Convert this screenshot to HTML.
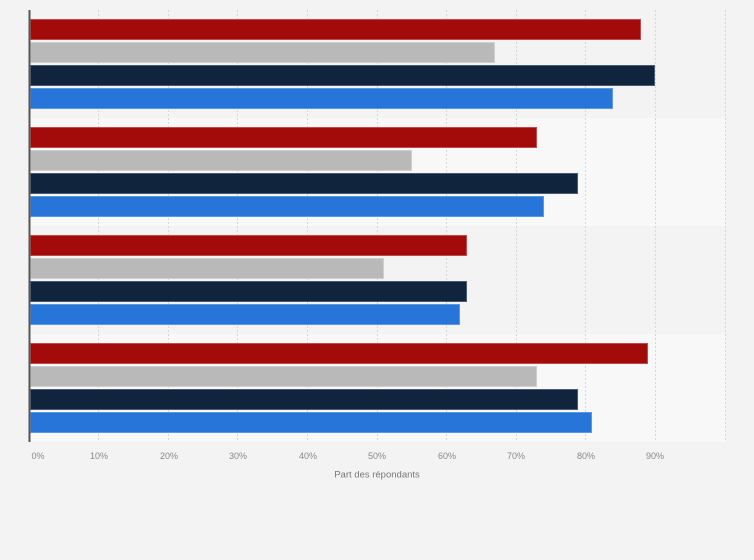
<!DOCTYPE html>
<html><head><meta charset="utf-8"><style>
html,body{margin:0;padding:0;background:#f3f3f3;}
svg{display:block;font-family:"Liberation Sans",sans-serif;}
</style></head><body>
<svg width="754" height="560" viewBox="0 0 754 560" xmlns="http://www.w3.org/2000/svg">
<rect x="0" y="0" width="754" height="560" fill="#f3f3f3"/>
<rect x="30" y="10" width="696" height="108" fill="#f3f3f3"/>
<rect x="30" y="118" width="696" height="108" fill="#f8f8f8"/>
<rect x="30" y="226" width="696" height="108" fill="#f3f3f3"/>
<rect x="30" y="334" width="696" height="108" fill="#f8f8f8"/>
<g stroke="#d6d6d6" stroke-width="1" stroke-dasharray="2,2">
<line x1="98.5" y1="10" x2="98.5" y2="442"/>
<line x1="168.5" y1="10" x2="168.5" y2="442"/>
<line x1="237.5" y1="10" x2="237.5" y2="442"/>
<line x1="307.5" y1="10" x2="307.5" y2="442"/>
<line x1="377.5" y1="10" x2="377.5" y2="442"/>
<line x1="446.5" y1="10" x2="446.5" y2="442"/>
<line x1="516.5" y1="10" x2="516.5" y2="442"/>
<line x1="585.5" y1="10" x2="585.5" y2="442"/>
<line x1="655.5" y1="10" x2="655.5" y2="442"/>
<line x1="725.5" y1="10" x2="725.5" y2="442"/>
</g>
<g stroke-width="1">
<!-- group 1 -->
<rect x="30.5" y="19.5" width="610" height="20" fill="#a30a0a" stroke="#c24a4a"/>
<rect x="30.5" y="42.5" width="464" height="20" fill="#b9b9b9" stroke="#cfcfcf"/>
<rect x="30.5" y="65.5" width="624" height="20" fill="#10253d" stroke="#4a5a70"/>
<rect x="30.5" y="88.5" width="582" height="20" fill="#2775d9" stroke="#5c97e3"/>
<!-- group 2 -->
<rect x="30.5" y="127.5" width="506" height="20" fill="#a30a0a" stroke="#c24a4a"/>
<rect x="30.5" y="150.5" width="381" height="20" fill="#b9b9b9" stroke="#cfcfcf"/>
<rect x="30.5" y="173.5" width="547" height="20" fill="#10253d" stroke="#4a5a70"/>
<rect x="30.5" y="196.5" width="513" height="20" fill="#2775d9" stroke="#5c97e3"/>
<!-- group 3 -->
<rect x="30.5" y="235.5" width="436" height="20" fill="#a30a0a" stroke="#c24a4a"/>
<rect x="30.5" y="258.5" width="353" height="20" fill="#b9b9b9" stroke="#cfcfcf"/>
<rect x="30.5" y="281.5" width="436" height="20" fill="#10253d" stroke="#4a5a70"/>
<rect x="30.5" y="304.5" width="429" height="20" fill="#2775d9" stroke="#5c97e3"/>
<!-- group 4 -->
<rect x="30.5" y="343.5" width="617" height="20" fill="#a30a0a" stroke="#c24a4a"/>
<rect x="30.5" y="366.5" width="506" height="20" fill="#b9b9b9" stroke="#cfcfcf"/>
<rect x="30.5" y="389.5" width="547" height="20" fill="#10253d" stroke="#4a5a70"/>
<rect x="30.5" y="412.5" width="561" height="20" fill="#2775d9" stroke="#5c97e3"/>
</g>
<line x1="29.5" y1="10" x2="29.5" y2="442" stroke="#555" stroke-width="2"/>
<g font-size="9" fill="#888" text-anchor="middle">
<text x="38" y="459">0%</text>
<text x="99" y="459">10%</text>
<text x="169" y="459">20%</text>
<text x="238" y="459">30%</text>
<text x="308" y="459">40%</text>
<text x="377" y="459">50%</text>
<text x="447" y="459">60%</text>
<text x="516" y="459">70%</text>
<text x="586" y="459">80%</text>
<text x="655" y="459">90%</text>
</g>
<text x="377" y="477.5" font-size="9.5" fill="#777" text-anchor="middle">Part des répondants</text>
</svg>
</body></html>
